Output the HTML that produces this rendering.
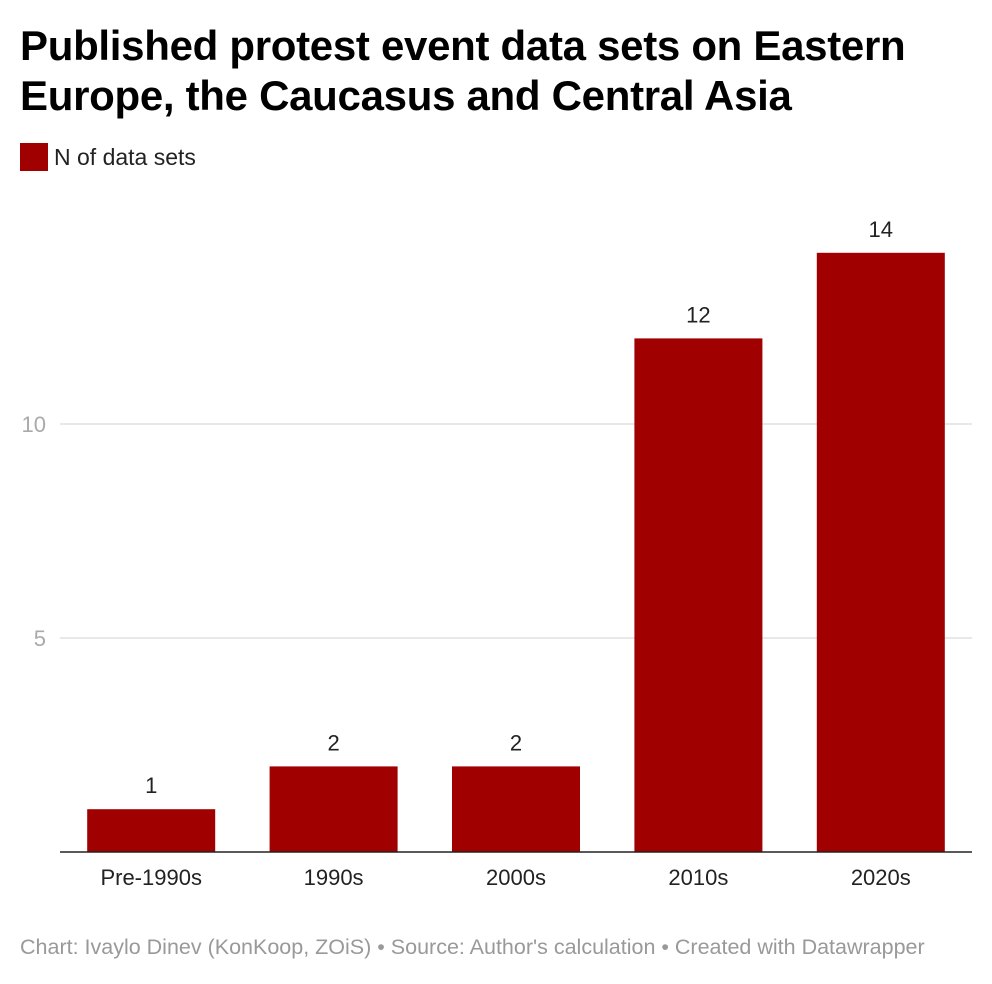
<!DOCTYPE html>
<html><head><meta charset="utf-8"><style>
body{margin:0;background:#fff;font-family:"Liberation Sans",Arial,sans-serif;}
#wrap{position:relative;width:992px;height:984px;overflow:hidden;}
h1{position:absolute;left:20px;top:21px;margin:0;font-size:42px;line-height:50px;font-weight:bold;color:#000;letter-spacing:-0.3px;white-space:nowrap;}
#legend{position:absolute;left:20px;top:143px;display:flex;align-items:center;font-size:23px;color:#222;}
#legend span.sw{display:inline-block;width:28px;height:28px;background:#a00000;margin-right:6px;}
#footer{position:absolute;left:20px;top:935px;font-size:21.5px;color:#999;white-space:nowrap;}
svg{position:absolute;left:0;top:0;}
</style></head><body>
<div id="wrap">
<h1>Published protest event data sets on Eastern<br>Europe, the Caucasus and Central Asia</h1>
<div id="legend"><span class="sw"></span><span>N of data sets</span></div>
<svg id="chart" width="992" height="984"></svg>
<div id="footer">Chart: Ivaylo Dinev (KonKoop, ZOiS) • Source: Author's calculation • Created with Datawrapper</div>
</div>
<script>
const categories=["Pre-1990s","1990s","2000s","2010s","2020s"];
const values=[1,2,2,12,14];
const yTicks=[5,10];
const tickLabels=["5","10"];
const svg=document.getElementById('chart');
const NS='http://www.w3.org/2000/svg';
const x0=60,x1=972,y0=852,pxPerUnit=42.8;
const band=(x1-x0)/categories.length,barW=128;
const y=v=>y0-v*pxPerUnit;
const xb=i=>x0+band*i+(band-barW)/2;
function mk(t,a){const e=document.createElementNS(NS,t);for(const k in a)e.setAttribute(k,a[k]);svg.appendChild(e);return e;}
yTicks.forEach((t,i)=>{
 const g=mk('line',{x1:x0,x2:x1,y1:y(t),y2:y(t),stroke:'#e0e0e0','stroke-width':1.5});
 
 
 const l=mk('text',{x:46,y:y(t)+8,'text-anchor':'end','font-size':22,fill:'#aaa','font-family':'Liberation Sans, sans-serif'});
 l.textContent=tickLabels[i];
 
 
});
categories.forEach((c,i)=>{
 const r=mk('rect',{x:xb(i),y:y(values[i]),width:barW,height:values[i]*pxPerUnit,fill:'#a00000'});
 
 
 const v=mk('text',{x:xb(i)+barW/2,y:y(values[i])-16,'text-anchor':'middle','font-size':22,fill:'#222','font-family':'Liberation Sans, sans-serif'});
 v.textContent=values[i];
 
 
 const t=mk('text',{x:xb(i)+barW/2,y:y0+33,'text-anchor':'middle','font-size':22,fill:'#222','font-family':'Liberation Sans, sans-serif'});
 t.textContent=c;
 
 
});
const ax=mk('line',{x1:x0,x2:x1,y1:y0,y2:y0,stroke:'#222','stroke-width':1.5});


</script>
</body></html>
